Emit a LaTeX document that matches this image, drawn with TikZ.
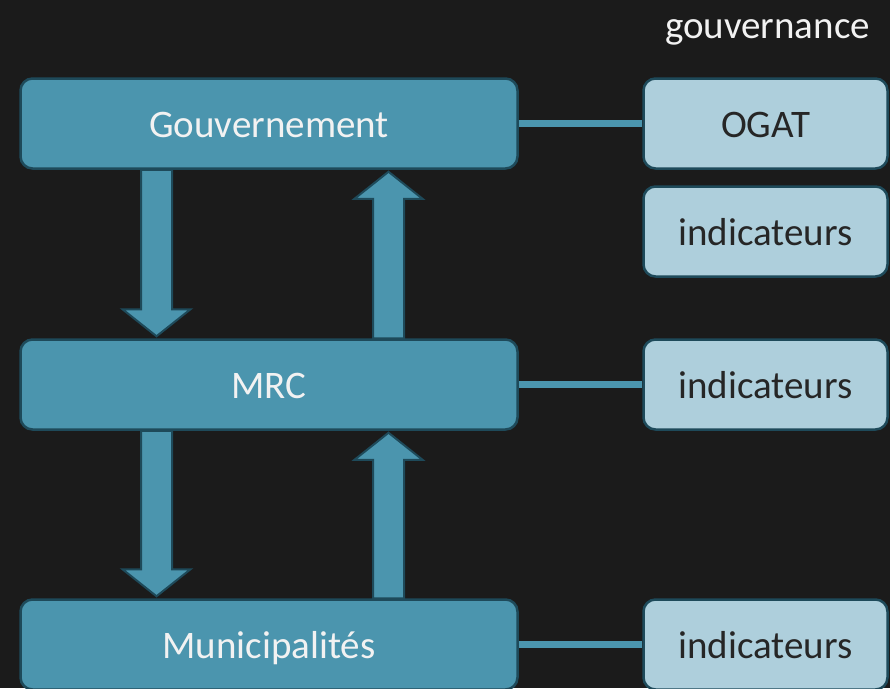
\documentclass[tikz,border=0pt]{standalone}
\usepackage{fontspec}
\setmainfont{Carlito}
\usepackage{tikz}
\usetikzlibrary{calc}
\definecolor{fond}{HTML}{1B1B1B}
\definecolor{sarcelle}{HTML}{4B95AE}
\definecolor{clair}{HTML}{AECFDC}
\definecolor{bord}{HTML}{1E4A5A}
\definecolor{blanc}{HTML}{F2F2F2}
\definecolor{sombre}{HTML}{262626}
\tikzset{
niveau/.style={draw=bord,line width=2.5pt,fill=sarcelle,rounded corners=12pt,minimum width=497pt,minimum height=90pt,text=blanc,font=\fontsize{39}{47}\selectfont,text height=27pt,text depth=0pt},
outil/.style={niveau,fill=clair,text=sombre,minimum width=244pt},
titre/.style={text=blanc,font=\fontsize{39}{47}\selectfont},
lien/.style={draw=sarcelle,line width=7pt},
fleche/.style={draw=bord,line width=2pt,fill=sarcelle,line join=miter}
}
\newcommand{\blocfleche}[2]{
\draw[fleche] let \p1=(#1), \p2=(#2), \n1={ifthenelse(\y2>\y1,1,-1)} in
(\x1-15.5pt,\y1) -- (\x1-15.5pt,\y2-\n1*29pt) -- (\x1-34pt,\y2-\n1*29pt) -- (\x1,\y2-\n1*2pt)
-- (\x1+34pt,\y2-\n1*29pt) -- (\x1+15.5pt,\y2-\n1*29pt) -- (\x1+15.5pt,\y1) -- cycle;
}
\begin{document}
\begin{tikzpicture}[x=1pt,y=-1pt]
\fill[fond] (0,0) rectangle (890,688);
\useasboundingbox (0,0) rectangle (890,688);
\clip (0,0) rectangle (890,688);
\coordinate (bas) at (156.5,0);
\coordinate (haut) at (388.5,0);
\node[niveau] (gouv) at (269,123.5) {Gouvernement};
\node[niveau] (mrc) at (269,384.5) {MRC};
\node[niveau] (muni) at (269,644.5) {Municipalités};
\node[outil] (ogat) at (765.5,123.5) {OGAT};
\node[outil] (ind1) at (765.5,231.5) {indicateurs};
\node[outil] (ind2) at (765.5,384.5) {indicateurs};
\node[outil] (ind3) at (765.5,644.5) {indicateurs};
\node[titre,anchor=base] (gouvernance) at (767.5,38) {gouvernance};
\draw[lien] (gouv) -- (ogat);
\draw[lien] (mrc) -- (ind2);
\draw[lien] (muni) -- (ind3);
\blocfleche{gouv.south -| bas}{mrc.north -| bas}
\blocfleche{mrc.north -| haut}{gouv.south -| haut}
\blocfleche{mrc.south -| bas}{muni.north -| bas}
\blocfleche{muni.north -| haut}{mrc.south -| haut}
\end{tikzpicture}
\end{document}
